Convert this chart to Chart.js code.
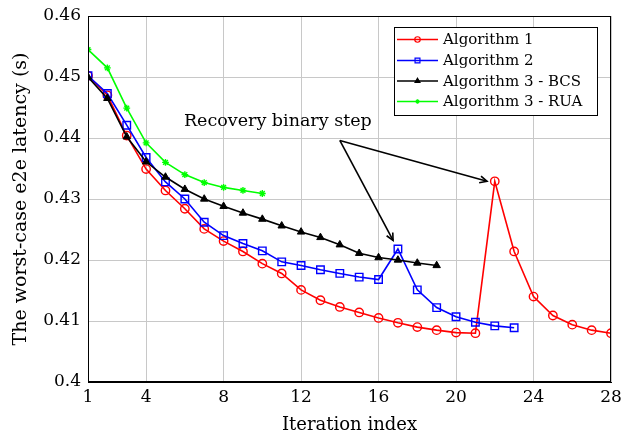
<!DOCTYPE html>
<html>
<head>
<meta charset="utf-8">
<script src="https://cdn.jsdelivr.net/npm/chart.js@4.4.1/dist/chart.umd.min.js"></script>
<style>
  html, body { margin: 0; padding: 0; background: #fff; }
  #wrap { width: 621px; height: 432px; }
</style>
</head>
<body>
<div id="wrap"><canvas id="canva" width="621" height="432"></canvas></div>
<script>
const iterations = [1, 2, 3, 4, 5, 6, 7, 8, 9, 10, 11, 12, 13, 14, 15, 16, 17, 18, 19, 20, 21, 22, 23, 24, 25, 26, 27, 28];
const xTicks = [1, 4, 8, 12, 16, 20, 24, 28];
const yTicks = [0.4, 0.41, 0.42, 0.43, 0.44, 0.45, 0.46];

const alg1 = [0.4502, 0.4470, 0.4404, 0.4349, 0.4314, 0.4284, 0.4251, 0.4231, 0.4214, 0.4194,
  0.4178, 0.4151, 0.4134, 0.4123, 0.4114, 0.4105, 0.4097, 0.4090, 0.4085, 0.4081,
  0.4080, 0.4329, 0.4214, 0.4140, 0.4109, 0.4094, 0.4085, 0.4080];
const alg2 = [0.4502, 0.4473, 0.4421, 0.4368, 0.4328, 0.4300, 0.4262, 0.4240, 0.4227, 0.4215,
  0.4197, 0.4191, 0.4184, 0.4178, 0.4172, 0.4168, 0.4218, 0.4151, 0.4122, 0.4107,
  0.4098, 0.4092, 0.4089];
const alg3bcs = [0.4500, 0.4465, 0.4402, 0.4361, 0.4336, 0.4316, 0.4300, 0.4288, 0.4277, 0.4267,
  0.4256, 0.4246, 0.4237, 0.4225, 0.4211, 0.4204, 0.4200, 0.4195, 0.4191];
const alg3rua = [0.4545, 0.4515, 0.4449, 0.4392, 0.4360, 0.4340, 0.4327, 0.4319, 0.4314, 0.4309];

// annotation in data coordinates
const noteText = "Recovery binary step";
const noteAt = { x: 10.8, y: 0.4427 };
const arrowFrom = { x: 14.0, y: 0.4396 };
const arrowTo = [{ x: 16.75, y: 0.4232 }, { x: 21.6, y: 0.4329 }];

const FONT = "'DejaVu Serif', 'Liberation Serif', serif";

function pts(vals) {
  return vals.map((v, i) => ({ x: iterations[i], y: v }));
}

const data = {
  datasets: [
    {
      label: "Algorithm 1",
      data: pts(alg1),
      borderColor: "#ff0000",
      backgroundColor: "rgba(0,0,0,0)",
      pointStyle: "circle",
      pointRadius: 4.2,
      pointBorderWidth: 1.4,
      order: 4,
    },
    {
      label: "Algorithm 2",
      data: pts(alg2),
      borderColor: "#0000ff",
      backgroundColor: "rgba(0,0,0,0)",
      pointStyle: "rect",
      pointRadius: 5.3,
      pointBorderWidth: 1.4,
      order: 3,
    },
    {
      label: "Algorithm 3 - BCS",
      data: pts(alg3bcs),
      borderColor: "#000000",
      backgroundColor: "#000000",
      pointStyle: "triangle",
      pointRadius: 4.3,
      pointBorderWidth: 1,
      order: 2,
    },
    {
      label: "Algorithm 3 - RUA",
      data: pts(alg3rua),
      borderColor: "#00ff00",
      backgroundColor: "#00ff00",
      pointStyle: "star",
      pointRadius: 3.4,
      pointBorderWidth: 1.4,
      order: 1,
    },
  ],
};

function arrow(ctx, x1, y1, x2, y2) {
  ctx.beginPath();
  ctx.moveTo(x1, y1);
  ctx.lineTo(x2, y2);
  ctx.stroke();
  const a = Math.atan2(y2 - y1, x2 - x1);
  const L = 8, w = 0.45;
  ctx.beginPath();
  ctx.moveTo(x2 - L * Math.cos(a - w), y2 - L * Math.sin(a - w));
  ctx.lineTo(x2, y2);
  ctx.lineTo(x2 - L * Math.cos(a + w), y2 - L * Math.sin(a + w));
  ctx.stroke();
}

const extras = {
  id: "extras",
  afterDatasetsDraw(chart) {
    const { ctx, chartArea: a, scales: { x, y } } = chart;
    ctx.save();
    // frame
    ctx.strokeStyle = "#000";
    ctx.lineWidth = 1;
    ctx.strokeRect(a.left + 0.5, a.top + 0.5, a.right - a.left - 1, a.bottom - a.top - 1);

    // annotation
    ctx.fillStyle = "#000";
    ctx.font = "17.5px " + FONT;
    ctx.textAlign = "center";
    ctx.textBaseline = "middle";
    ctx.fillText(noteText, x.getPixelForValue(noteAt.x), y.getPixelForValue(noteAt.y));
    ctx.lineWidth = 1.6;
    const fx = x.getPixelForValue(arrowFrom.x), fy = y.getPixelForValue(arrowFrom.y);
    arrowTo.forEach(p => arrow(ctx, fx, fy, x.getPixelForValue(p.x), y.getPixelForValue(p.y)));

    // legend
    const lx = 394, ly = 27, lw = 203, lh = 88;
    ctx.fillStyle = "#fff";
    ctx.fillRect(lx, ly, lw, lh);
    ctx.lineWidth = 1;
    ctx.strokeStyle = "#000";
    ctx.strokeRect(lx + 0.5, ly + 0.5, lw, lh);
    ctx.textAlign = "left";
    ctx.font = "15px " + FONT;
    const rows = [39.5, 60.5, 81, 101.5];
    chart.data.datasets.forEach((ds, k) => {
      const ry = rows[k];
      ctx.strokeStyle = ds.borderColor;
      ctx.lineWidth = 1.6;
      ctx.beginPath();
      ctx.moveTo(397, ry);
      ctx.lineTo(438, ry);
      ctx.stroke();
      ctx.lineWidth = 1.2;
      ctx.fillStyle = ds.backgroundColor;
      Chart.helpers.drawPoint(ctx, { pointStyle: ds.pointStyle, radius: ds.pointRadius * 0.65, borderWidth: 1.2 }, 417.5, ry);
      ctx.fillStyle = "#000";
      ctx.fillText(ds.label, 443, ry + 1);
    });
    ctx.restore();
  },
};

const config = {
  type: "line",
  data: data,
  options: {
    responsive: false,
    animation: false,
    layout: { padding: { top: 16, right: 10, left: 0, bottom: 0 } },
    elements: { line: { borderWidth: 1.6, tension: 0 } },
    plugins: {
      legend: { display: false },
      tooltip: { enabled: false },
    },
    scales: {
      x: {
        type: "linear",
        min: 1,
        max: 28,
        afterBuildTicks: s => { s.ticks = xTicks.map(v => ({ value: v })); },
        afterFit: s => { s.height = 50; s.paddingRight = 0; s.paddingLeft = 0; },
        grid: { color: "#c8c8c8", drawTicks: false },
        border: { color: "#000" },
        ticks: { color: "#000", font: { family: FONT, size: 17 }, padding: 5, maxRotation: 0 },
        title: {
          display: true,
          text: "Iteration index",
          color: "#000",
          font: { family: FONT, size: 18 },
          padding: { top: 0, bottom: -4 },
        },
      },
      y: {
        min: 0.4,
        max: 0.46,
        afterBuildTicks: s => { s.ticks = yTicks.map(v => ({ value: v })); },
        afterFit: s => { s.width = 88; s.paddingTop = 0; s.paddingBottom = 0; },
        grid: { color: "#c8c8c8", drawTicks: false },
        border: { color: "#000" },
        ticks: {
          color: "#000",
          font: { family: FONT, size: 17 },
          padding: 7,
          callback: v => String(Math.round(v * 100) / 100),
        },
        title: {
          display: true,
          text: "The worst-case e2e latency (s)",
          color: "#000",
          font: { family: FONT, size: 19 },
          padding: { top: 10, bottom: 0 },
        },
      },
    },
  },
  plugins: [extras],
};

const myChart = new Chart(document.getElementById("canva"), config);
</script>
</body>
</html>
